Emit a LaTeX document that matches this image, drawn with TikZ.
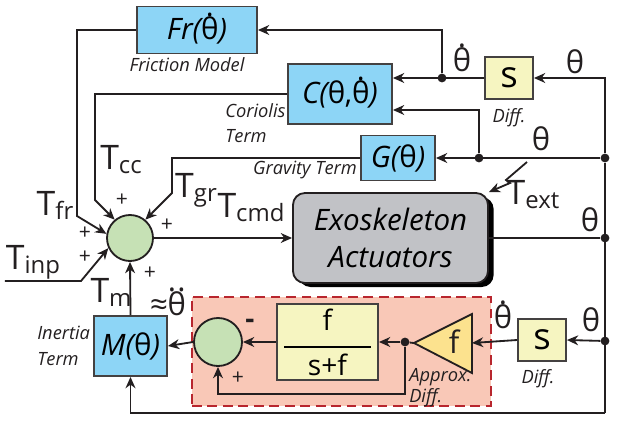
\documentclass[tikz,border=0pt]{standalone}
\usepackage{fontspec}
\setmainfont{Open Sans}
\usetikzlibrary{arrows.meta,shadows}
\definecolor{ModelBlue}{HTML}{8DD5F6}
\definecolor{DiffYellow}{HTML}{F6F5C1}
\definecolor{SumGreen}{HTML}{C6E1B5}
\definecolor{ExoGray}{HTML}{C1C2C6}
\definecolor{ApproxSalmon}{HTML}{F9C8B7}
\definecolor{ApproxRed}{HTML}{B8262E}
\definecolor{GainYellow}{HTML}{FCE28E}
\definecolor{LineBlack}{HTML}{231F20}
\newcommand\thd{\ooalign{θ\cr\hidewidth\raisebox{0.78em}{.}\hidewidth\cr}}
\newcommand\thdd{\ooalign{θ\cr\hidewidth\raisebox{0.78em}{.\kern0.04em.}\hidewidth\cr}}
\newcommand\Tsub[1]{T\raisebox{-0.12em}{\fontsize{17}{17}\selectfont #1}}
\tikzset{
  modelbox/.style={draw=LineBlack!85,fill=ModelBlue,line width=1.3pt,
    font=\fontsize{21}{24}\selectfont,inner sep=0pt},
  diffbox/.style={draw=LineBlack!85,fill=DiffYellow,line width=1.3pt,
    font=\fontsize{26}{28}\selectfont,minimum width=1.2cm,minimum height=1.07cm,inner sep=0pt},
  lpbox/.style={draw=LineBlack!85,fill=DiffYellow,line width=1.3pt,
    font=\fontsize{20}{16}\selectfont,minimum width=2.525cm,minimum height=1.9cm,
    align=center,inner sep=0pt},
  sumnode/.style={circle,draw=LineBlack,fill=SumGreen,line width=1.3pt,inner sep=0pt},
  exobox/.style={draw=LineBlack,fill=ExoGray,line width=1.3pt,rounded corners=0.3cm,
    minimum width=4.875cm,minimum height=2.25cm,align=center,
    font=\fontsize{21}{26}\selectfont\itshape,
    drop shadow={shadow xshift=0.14cm,shadow yshift=-0.1cm,fill=black,opacity=1}},
  approxregion/.style={draw=ApproxRed,fill=ApproxSalmon,line width=0.9pt,
    dash pattern=on 7pt off 4pt,minimum width=7.475cm,minimum height=2.725cm,inner sep=0pt},
  jdot/.style={circle,fill=LineBlack,inner sep=0pt,minimum size=0.22cm},
  sig/.style={line width=1.3pt,draw=LineBlack,-{Stealth[length=8pt,width=7pt,inset=2.5pt]}},
  wire/.style={line width=1.3pt,draw=LineBlack},
  lbl/.style={font=\fontsize{24}{26}\selectfont,inner sep=0pt,text=LineBlack},
  thlbl/.style={font=\fontsize{22}{24}\selectfont,inner sep=0pt,text=LineBlack},
  pluslbl/.style={font=\fontsize{15}{16}\selectfont,inner sep=0pt,text=LineBlack},
  note/.style={font=\fontsize{13}{18}\selectfont\itshape,inner sep=0pt,text=LineBlack,align=left},
}

\begin{document}
\begin{tikzpicture}[x=0.025cm,y=-0.025cm]
  \useasboundingbox (0,0) rectangle (641,422);
  % approximate differentiator region
  \node[approxregion] (approx) at (341.5,351.5) {};
  % blocks
  \node[modelbox,minimum width=3.0cm,minimum height=1.175cm] (fr) at (197,30) {{\itshape Fr(}\thd{\itshape )}};
  \node[modelbox,minimum width=2.6cm,minimum height=1.5cm] (cor) at (340,94) {{\itshape C(}θ,\thd{\itshape )}};
  \node[modelbox,minimum width=1.85cm,minimum height=1.125cm] (grav) at (398,158) {{\itshape G(}θ{\itshape )}};
  \node[modelbox,minimum width=1.825cm,minimum height=1.5cm] (mass) at (130.5,346) {{\itshape M(}θ{\itshape )}};
  \node[exobox] (exo) at (390.5,238) {Exoskeleton\\Actuators};
  \node[diffbox] (sd1) at (509,78) {s};
  \node[diffbox] (sd2) at (542,340) {s};
  \node[lpbox] (lowpass) at (327.5,342) {f\\\rule[3.3pt]{2.17cm}{1.3pt}\\s+f};
  \node[sumnode,minimum size=1.15cm] (sum) at (130,238) {};
  \node[sumnode,minimum size=1.2cm] (sum2) at (218,342) {};
  % gain triangle
  \coordinate (ampA) at (414,343);
  \coordinate (ampB) at (472,314);
  \coordinate (ampC) at (472,373);
  \coordinate (ampin) at (472,343);
  \filldraw[fill=GainYellow,draw=LineBlack,line width=1.3pt,line join=miter] (ampA) -- (ampB) -- (ampC) -- cycle;
  \node[thlbl] (ampf) at (454,342) {f};
  % junctions
  \node[jdot] (j1) at (442,78) {};
  \node[jdot] (jgc) at (479,158) {};
  \node[jdot] (jr1) at (605,158) {};
  \node[jdot] (jr2) at (605,238) {};
  \node[jdot] (jr3) at (605,341) {};
  \node[jdot] (jlp) at (405,342) {};
  \coordinate (bot) at (605,413);
  \coordinate (fb) at (405,394);
  \coordinate (frk) at (77,216);
  \coordinate (cck) at (95,200);
  \coordinate (grk) at (172,193);
  \coordinate (inp) at (5,281);
  \coordinate (inpk) at (81,281);
  \coordinate (extA) at (527,162);
  \coordinate (extB) at (506,180);
  \coordinate (extC) at (510,183);
  % feedback paths
  \draw[sig] (jr1) |- (sd1.east);
  \draw[sig] (sd1.west) -- ([yshift=0.4cm]cor.east);
  \draw[sig] (j1) |- (fr.east);
  \draw[sig] (jr1) -- (grav.east);
  \draw[sig] (jgc) |- ([yshift=-0.4cm]cor.east);
  \draw[wire] (exo.east) -- (jr2);
  \draw[wire] (jr1) -- (bot);
  \draw[sig] (bot) -| (mass.south);
  \draw[sig] (jr3) -- (sd2.east);
  \draw[sig] (sd2.west) -- (ampin);
  \draw[wire] (ampA) -- (jlp);
  \draw[sig] (jlp) -- (lowpass.east);
  \draw[sig] (jlp) -- (fb) -| (sum2.south);
  \draw[sig] (lowpass.west) -- (sum2.east);
  \draw[sig] (sum2.west) -- (mass.east);
  % torques into the sum
  \draw[sig] (fr.west) -| (frk) -- (sum.170);
  \draw[sig] (cor.west) -| (cck) -- (sum.130);
  \draw[sig] (grav.west) -| (grk) -- (sum.50);
  \draw[sig] (inp) -- (inpk) -- (sum.205);
  \draw[sig] (mass.north) -- (sum.south);
  \draw[sig] (sum.east) -- (exo.west);
  \draw[sig] (extA) -- (extB) -- (extC) -- (exo.north east);
  % signal labels
  \node[lbl] (tfr) at (55,205) {\Tsub{fr}};
  \node[lbl] (tcc) at (121,160) {\Tsub{cc}};
  \node[lbl] (tgr) at (196,190) {\Tsub{gr}};
  \node[lbl] (tcmd) at (251,208) {\Tsub{cmd}};
  \node[lbl] (tinp) at (33,262) {\Tsub{inp}};
  \node[lbl] (tm) at (111,292) {\Tsub{m}};
  \node[lbl] (text) at (533,195) {\Tsub{ext}};
  \node[thlbl] (accl) at (168,304) {≈\thdd};
  \node[thlbl] (thdA) at (462,60) {\thd};
  \node[thlbl] (thA) at (575,62) {θ};
  \node[thlbl] (thB) at (541,139) {θ};
  \node[thlbl] (thC) at (590,220) {θ};
  \node[thlbl] (thdB) at (503,317) {\thd};
  \node[thlbl] (thD) at (591,320) {θ};
  \node[pluslbl] (pcc) at (122,200) {+};
  \node[pluslbl] (pfr) at (85,233) {+};
  \node[pluslbl] (pinp) at (85,257) {+};
  \node[pluslbl] (pgr) at (167,225) {+};
  \node[pluslbl] (pm) at (150,273) {+};
  \node[pluslbl,font=\fontsize{20}{20}\selectfont\bfseries] (pmin) at (250,324) {-};
  \node[pluslbl] (pplus) at (238,378) {+};
  % block captions
  \node[note] (frcap) at (187,65) {Friction Model};
  \node[note,anchor=west] (corcap) at (225,123) {Coriolis\\Term};
  \node[note] (gravcap) at (305,170) {Gravity Term};
  \node[note,anchor=west] (masscap) at (37,346) {Inertia\\Term};
  \node[note] (d1cap) at (509,118) {Diff.};
  \node[note] (d2cap) at (538,379) {Diff.};
  \node[note,anchor=west,font=\fontsize{13}{15}\selectfont\itshape] (apcap) at (409,388) {Approx.\\Diff.};
\end{tikzpicture}
\end{document}
